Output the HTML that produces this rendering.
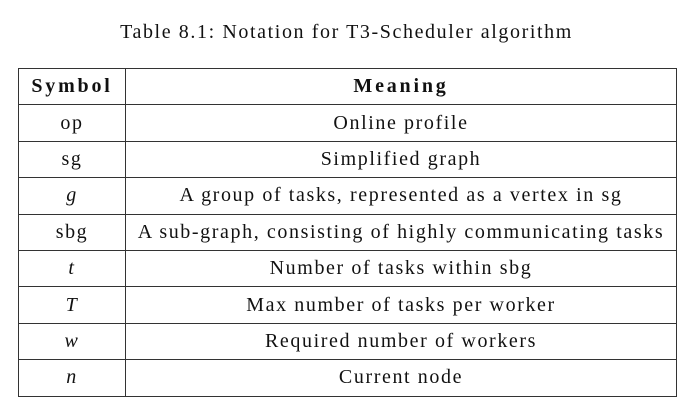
<!DOCTYPE html>
<html><head><meta charset="utf-8"><style>
html,body{margin:0;padding:0;background:#fff;width:693px;height:415px;overflow:hidden}
body{font-family:"Liberation Serif",serif;color:#111;position:relative}
#title{position:absolute;left:0;width:693px;top:21px;text-align:center;font-size:20px;letter-spacing:1.6px}
table{position:absolute;left:18px;top:68px;width:659px;border-collapse:collapse;font-size:20px;letter-spacing:1.6px}
td,th{border:1px solid #333;height:35.4px;padding:0;text-align:center;vertical-align:middle}
th{font-weight:bold;letter-spacing:2.8px}
td.c1,th.c1{width:106px}
i{font-style:italic}
</style></head><body>
<div id="title">Table 8.1: Notation for T3-Scheduler algorithm</div>
<table>
<tr><th class="c1">Symbol</th><th>Meaning</th></tr>
<tr><td class="c1">op</td><td>Online profile</td></tr>
<tr><td class="c1">sg</td><td>Simplified graph</td></tr>
<tr><td class="c1"><i>g</i></td><td>A group of tasks, represented as a vertex in sg</td></tr>
<tr><td class="c1">sbg</td><td>A sub-graph, consisting of highly communicating tasks</td></tr>
<tr><td class="c1"><i>t</i></td><td>Number of tasks within sbg</td></tr>
<tr><td class="c1"><i>T</i></td><td>Max number of tasks per worker</td></tr>
<tr><td class="c1"><i>w</i></td><td>Required number of workers</td></tr>
<tr><td class="c1"><i>n</i></td><td>Current node</td></tr>
</table>
</body></html>
